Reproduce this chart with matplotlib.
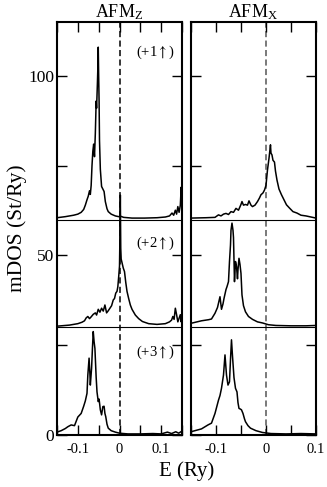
import matplotlib
matplotlib.use('Agg')
import matplotlib.pyplot as plt
from matplotlib.ticker import MultipleLocator, FuncFormatter

plt.rcParams['font.family'] = ['Liberation Serif', 'DejaVu Serif']
plt.rcParams['mathtext.fontset'] = 'stix'
plt.rcParams['axes.unicode_minus'] = False

# stack offsets of the three curves in each panel (St/Ry)
offsets = [60, 30, 0]
labels = ['(+1$\\uparrow$)', '(+2$\\uparrow$)', '(+3$\\uparrow$)']

# AFM_Z panel, energies (Ry) and mDOS values (relative to offset)
ez1 = [-0.150, -0.130, -0.110, -0.100, -0.092, -0.086, -0.082, -0.078, -0.075, -0.072,
       -0.070, -0.068, -0.066, -0.064, -0.062, -0.060, -0.058, -0.056, -0.055, -0.053,
       -0.052, -0.051, -0.050, -0.049, -0.048, -0.046, -0.043, -0.040, -0.037, -0.034,
       -0.030, -0.027, -0.020, -0.010, -0.002, 0.003, 0.010, 0.030, 0.060, 0.090,
       0.110, 0.120, 0.126, 0.130, 0.134, 0.137, 0.140, 0.143, 0.146, 0.148, 0.150]
dz1 = [0.5, 0.8, 1.2, 1.5, 2.0, 2.8, 4.0, 5.5, 6.5, 8.0,
       7.0, 9.5, 15.0, 19.0, 21.0, 17.5, 24.0, 33.0, 31.0, 38.0,
       42.0, 48.0, 40.0, 33.0, 22.0, 14.0, 9.2, 8.5, 7.8, 5.0,
       3.0, 2.2, 1.5, 1.0, 0.8, 0.9, 0.6, 0.4, 0.4, 0.5,
       0.7, 1.0, 1.8, 1.2, 2.6, 1.5, 3.6, 2.0, 4.0, 9.0, 5.0]

ez2 = [-0.150, -0.120, -0.100, -0.090, -0.084, -0.080, -0.076, -0.072, -0.068, -0.063,
       -0.058, -0.055, -0.051, -0.047, -0.043, -0.039, -0.035, -0.031, -0.027, -0.023,
       -0.019, -0.015, -0.012, -0.009, -0.006, -0.004, -0.002, 0.000, 0.001, 0.002,
       0.003, 0.004, 0.006, 0.009, 0.012, 0.015, 0.018, 0.022, 0.026, 0.030,
       0.038, 0.046, 0.055, 0.070, 0.090, 0.110, 0.120, 0.125, 0.128, 0.131,
       0.134, 0.137, 0.140, 0.143, 0.146, 0.148, 0.150]
dz2 = [0.3, 0.6, 1.0, 1.4, 1.8, 2.6, 3.0, 2.4, 2.9, 3.6,
       4.0, 3.4, 5.0, 4.2, 5.3, 4.5, 6.2, 4.0, 4.6, 5.3,
       6.0, 7.6, 8.0, 9.5, 10.0, 11.3, 14.0, 17.0, 25.0, 36.8,
       22.0, 19.0, 18.0, 16.5, 15.5, 12.5, 10.0, 8.0, 6.2, 5.0,
       3.4, 2.4, 1.6, 1.0, 0.8, 1.0, 1.5, 2.0, 3.0, 2.2,
       5.3, 3.5, 1.5, 2.5, 3.5, 1.5, 4.0]

ez3 = [-0.150, -0.140, -0.130, -0.124, -0.116, -0.108, -0.100, -0.092, -0.086, -0.082,
       -0.078, -0.076, -0.073, -0.071, -0.070, -0.067, -0.065, -0.063, -0.061, -0.059,
       -0.056, -0.054, -0.051, -0.049, -0.046, -0.043, -0.040, -0.037, -0.035, -0.033,
       -0.030, -0.027, -0.020, -0.010, 0.000, 0.020, 0.050, 0.080, 0.100, 0.115,
       0.125, 0.135, 0.142, 0.146, 0.150]
dz3 = [0.8, 1.2, 1.8, 2.3, 2.8, 2.6, 5.0, 6.0, 8.0, 9.5,
       11.6, 16.7, 21.4, 17.0, 13.9, 18.6, 24.0, 28.8, 26.0, 24.1,
       16.0, 12.0, 9.3, 10.0, 7.0, 5.6, 7.9, 8.0, 6.0, 5.1,
       3.0, 1.9, 1.2, 0.8, 0.5, 0.3, 0.3, 0.4, 0.3, 0.8,
       0.4, 0.9, 0.5, 0.8, 1.1]

# AFM_X panel
ex1 = [-0.150, -0.120, -0.102, -0.095, -0.090, -0.085, -0.080, -0.075, -0.070, -0.065,
       -0.060, -0.055, -0.050, -0.048, -0.045, -0.041, -0.037, -0.034, -0.030, -0.027,
       -0.022, -0.017, -0.013, -0.010, -0.006, -0.003, 0.000, 0.003, 0.006, 0.008,
       0.009, 0.010, 0.012, 0.014, 0.017, 0.019, 0.022, 0.026, 0.031, 0.036,
       0.041, 0.047, 0.054, 0.062, 0.070, 0.080, 0.090, 0.100]
dx1 = [0.4, 0.5, 0.6, 1.3, 1.0, 1.5, 1.7, 1.4, 2.2, 2.0,
       3.1, 2.6, 4.2, 5.0, 4.0, 4.2, 4.0, 5.2, 4.0, 3.6,
       4.0, 5.0, 6.0, 6.9, 7.4, 8.2, 9.5, 13.8, 17.0, 19.5,
       20.8, 18.5, 18.0, 16.5, 16.0, 13.5, 11.0, 8.5, 6.9, 5.5,
       4.1, 3.2, 2.2, 1.8, 1.2, 1.0, 0.7, 0.4]

ex2 = [-0.150, -0.129, -0.115, -0.109, -0.102, -0.097, -0.095, -0.092, -0.089, -0.086,
       -0.084, -0.080, -0.078, -0.075, -0.073, -0.071, -0.070, -0.068, -0.066, -0.065,
       -0.063, -0.061, -0.059, -0.057, -0.056, -0.054, -0.052, -0.050, -0.048, -0.045,
       -0.041, -0.035, -0.027, -0.017, -0.007, 0.005, 0.020, 0.050, 0.080, 0.100]
dx2 = [1.1, 1.8, 2.1, 2.3, 3.9, 5.5, 6.7, 8.5, 5.0, 6.5,
       8.0, 10.5, 11.3, 12.7, 18.3, 22.9, 27.0, 29.0, 27.0, 25.0,
       12.7, 18.3, 17.0, 13.5, 16.0, 19.2, 17.5, 15.0, 9.0, 6.0,
       4.3, 3.0, 2.2, 1.5, 1.2, 0.7, 0.5, 0.4, 0.4, 0.5]

ex3 = [-0.150, -0.129, -0.116, -0.109, -0.102, -0.095, -0.092, -0.089, -0.085, -0.082,
       -0.079, -0.076, -0.073, -0.071, -0.069, -0.067, -0.064, -0.061, -0.058, -0.056,
       -0.054, -0.051, -0.049, -0.046, -0.043, -0.041, -0.036, -0.031, -0.020, -0.007,
       0.010, 0.040, 0.070, 0.100]
dx3 = [0.9, 1.7, 2.8, 3.3, 6.0, 9.7, 11.0, 13.0, 16.7, 22.3,
       16.7, 13.9, 14.8, 21.0, 26.5, 22.0, 16.0, 13.0, 12.0, 9.0,
       7.4, 7.2, 7.0, 6.0, 4.5, 3.7, 2.6, 1.9, 1.2, 0.7,
       0.4, 0.3, 0.4, 0.3]

panels = [
    ('AFM$_\\mathregular{Z}$', (-0.15, 0.15), [(ez1, dz1), (ez2, dz2), (ez3, dz3)], 'black'),
    ('AFM$_\\mathregular{X}$', (-0.15, 0.1001), [(ex1, dx1), (ex2, dx2), (ex3, dx3)], '#555555'),
]

fig = plt.figure(figsize=(3.27, 4.87), dpi=100)
ax_left = fig.add_axes([0.1743, 0.1068, 0.3823, 0.848])
ax_right = fig.add_axes([0.5841, 0.1068, 0.3823, 0.848])

fmt = FuncFormatter(lambda v, pos: '%g' % round(v, 3))

for ax, (title, xlim, curves, dash_col) in zip([ax_left, ax_right], panels):
    ax.axvline(0, color=dash_col, lw=1.1, ls=(0, (4, 2.2)), zorder=1)
    for off in offsets[:2]:
        ax.axhline(off, color='black', lw=0.8, zorder=1)
    for (e, d), off in zip(curves, offsets):
        ax.plot(e, [v + off for v in d], color='black', lw=1.1, zorder=2)
    ax.set_xlim(*xlim)
    ax.set_ylim(0, 115)
    ax.set_title(title, fontsize=13, pad=2)
    ax.xaxis.set_major_locator(MultipleLocator(0.1))
    ax.xaxis.set_minor_locator(MultipleLocator(0.05))
    ax.yaxis.set_major_locator(MultipleLocator(50))
    ax.yaxis.set_minor_locator(MultipleLocator(25))
    ax.xaxis.set_major_formatter(fmt)
    ax.tick_params(which='both', direction='in', top=True, right=True,
                   length=7.5, width=1.0)
    ax.tick_params(axis='x', labelsize=10.5, pad=6)
    ax.tick_params(axis='y', labelsize=12.5, pad=2)
    for s in ax.spines.values():
        s.set_linewidth(1.5)

ax_right.set_yticklabels([])

for txt, y in zip(labels, [106.5, 53.5, 23]):
    ax_left.text(0.086, y, txt, fontsize=10.5, ha='center', va='center')

ax_left.set_ylabel('mDOS (St/Ry)', fontsize=15.5, labelpad=1)
fig.text(0.57, 0.032, 'E (Ry)', fontsize=15, ha='center', va='center')

fig.savefig('out.png', dpi=100)
plt.close(fig)
